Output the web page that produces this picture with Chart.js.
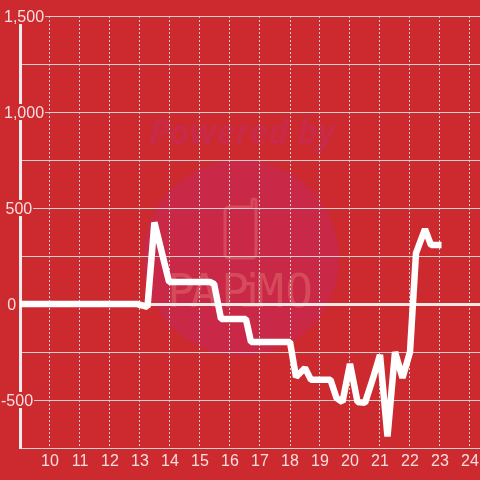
<!DOCTYPE html>
<html>
<head>
<meta charset="utf-8">
<title>Chart</title>
<script src="https://cdn.jsdelivr.net/npm/chart.js@4"></script>
<style>
    html, body { margin: 0; padding: 0; background: #cc2a2e; }
    canvas { display: block; }
</style>
</head>
<body>
<canvas id="lineChart" width="480" height="480"></canvas>
<script>
// Values
const hours = [8, 12.9, 13.25, 13.48, 13.97, 15.33, 15.47, 15.7, 16.53, 16.7, 18, 18.2, 18.5, 18.7, 19.35, 19.55, 19.75, 20, 20.25, 20.5, 20.75, 21, 21.25, 21.5, 21.75, 22, 22.2, 22.5, 22.7, 23.05];
const values = [0, 0, -15, 425, 115, 115, 105, -78, -78, -198, -198, -380, -333, -395, -395, -490, -510, -312, -510, -515, -395, -265, -690, -250, -385, -250, 265, 390, 307, 307];
const xTicks = [10, 11, 12, 13, 14, 15, 16, 17, 18, 19, 20, 21, 22, 23, 24];
const yTicks = [-750, -500, -250, 0, 250, 500, 750, 1000, 1250, 1500];
const yLabels = [-500, 0, 500, 1000, 1500];
const watermarkLetters = ['P', 'A', 'P', 'i', 'M', 'O'];

const background = '#cc2a2e';
const gridColor = '#d6cfcd';
const textColor = '#f7dede';

// Nudge y labels: the mirrored labels all start at the same x otherwise,
// and the text sits a bit high in its backdrop
const nudgeLabels = {
    id: 'nudgeLabels',
    afterLayout(chart) {
        const shifts = { '-500': -3, '0': 3.3, '500': 1.5 };
        chart.scales.y.getLabelItems(chart.chartArea).forEach((item) => {
            item.options.translation[0] += shifts[item.label] || 0;
            item.textOffset += 2;
        });
    }
};

// Faint logo behind the grid
const watermark = {
    id: 'watermark',
    beforeDraw(chart) {
        const ctx = chart.ctx;
        ctx.save();
        ctx.fillStyle = '#c92946';
        ctx.beginPath();
        ctx.arc(241, 258, 98, 0, Math.PI * 2);
        ctx.fill();

        ctx.fillStyle = '#c92a48';
        ctx.font = 'italic bold 34px "Open Sans"';
        ctx.textAlign = 'center';
        ctx.textBaseline = 'alphabetic';
        ctx.fillText('Powered by', 242, 144);

        // phone icon with its small aerial on the top right
        ctx.strokeStyle = '#d64b5c';
        ctx.lineWidth = 3;
        ctx.lineCap = 'round';
        ctx.beginPath();
        ctx.moveTo(252, 207);
        ctx.lineTo(229, 207);
        ctx.arcTo(225, 207, 225, 211, 4);
        ctx.lineTo(225, 254);
        ctx.arcTo(225, 258, 229, 258, 4);
        ctx.lineTo(252, 258);
        ctx.arcTo(256, 258, 256, 254, 4);
        ctx.lineTo(256, 201);
        ctx.arc(254, 201, 2, 0, Math.PI, true);
        ctx.lineTo(252, 207);
        ctx.stroke();

        ctx.fillStyle = '#d64b5c';
        ctx.font = '46px "DejaVu Sans Mono"';
        const letterX = [181, 204, 235, 252, 270, 299];
        watermarkLetters.forEach((letter, i) => {
            ctx.fillText(letter, letterX[i], 307);
        });
        ctx.restore();
    }
};

new Chart(document.getElementById('lineChart'), {
    type: 'line',
    data: {
        datasets: [{
            data: hours.map((h, i) => ({ x: h, y: values[i] })),
            borderColor: '#ffffff',
            borderWidth: 6.5,
            borderJoinStyle: 'bevel',
            pointRadius: 0,
            tension: 0,
            fill: false
        }]
    },
    options: {
        responsive: false,
        animation: false,
        layout: {
            padding: { left: 20, top: 16, right: 0, bottom: 0 }
        },
        plugins: {
            legend: { display: false },
            tooltip: { enabled: false }
        },
        scales: {
            x: {
                type: 'linear',
                min: 9,
                max: 9 + 460 / 30,
                afterBuildTicks: (axis) => { axis.ticks = xTicks.map((v) => ({ value: v })); },
                afterFit: (axis) => {
                    axis.height = 32;
                    axis.paddingLeft = 0;
                    axis.paddingRight = 0;
                },
                border: { display: false, dash: [2, 2] },
                grid: {
                    color: gridColor,
                    lineWidth: 1,
                    drawTicks: false
                },
                ticks: {
                    color: textColor,
                    font: { family: '"Liberation Sans"', size: 16, lineHeight: 1 },
                    padding: 6,
                    maxRotation: 0,
                    autoSkip: false,
                    callback: (v) => String(v)
                }
            },
            y: {
                min: -750,
                max: 1500,
                afterBuildTicks: (axis) => { axis.ticks = yTicks.map((v) => ({ value: v })); },
                // negative tick padding would otherwise shrink the box below zero
                afterFit: (axis) => { axis.width = 0; },
                border: { display: true, color: '#f0ebeb', width: 3 },
                grid: {
                    color: (c) => (c.tick && c.tick.value === 0 ? '#ece8e4' : gridColor),
                    lineWidth: (c) => (c.tick && c.tick.value === 0 ? 3 : 1),
                    drawTicks: false
                },
                ticks: {
                    color: textColor,
                    font: { family: '"Liberation Sans"', size: 16, lineHeight: 1 },
                    mirror: true,
                    padding: -16,
                    autoSkip: false,
                    showLabelBackdrop: true,
                    backdropColor: background,
                    backdropPadding: { left: 1, right: 1, top: 0, bottom: 0 },
                    callback: (v) => (yLabels.includes(v) ? v.toLocaleString('en-US') : '')
                }
            }
        }
    },
    plugins: [nudgeLabels, watermark]
});
</script>
</body>
</html>
